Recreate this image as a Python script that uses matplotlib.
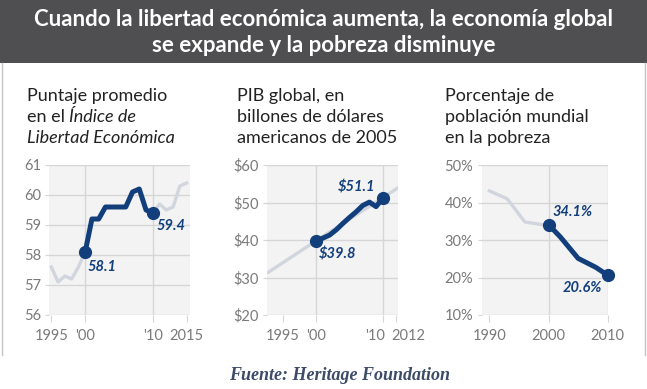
import matplotlib
matplotlib.use("Agg")
import matplotlib.pyplot as plt
import matplotlib.transforms as mtrans
from matplotlib.patches import Rectangle
from matplotlib.lines import Line2D

# ---- data ----
# panel 1: Indice de Libertad Economica (world average)
ief_years = [1995, 1996, 1997, 1998, 1999, 2000, 2001, 2002, 2003, 2004, 2005,
             2006, 2007, 2008, 2009, 2010, 2011, 2012, 2013, 2014, 2015]
ief_vals = [57.6, 57.1, 57.3, 57.2, 57.6, 58.1, 59.2, 59.2, 59.6, 59.6, 59.6,
            59.6, 60.1, 60.2, 59.5, 59.4, 59.7, 59.5, 59.6, 60.3, 60.4]
ief_hi = (2000, 2010)

# panel 2: PIB global (billones USD 2005)
gdp_trend_years = [1992.8, 2000, 2012.2]
gdp_trend_vals = [31.4, 39.8, 53.8]
gdp_years = [2000, 2001, 2002, 2003, 2004, 2005, 2006, 2007, 2008, 2009, 2010]
gdp_vals = [39.8, 40.5, 41.3, 42.7, 44.4, 46.0, 47.5, 49.2, 50.1, 48.9, 51.1]

# panel 3: porcentaje de poblacion mundial en la pobreza
pov_gray_years = [1990, 1993, 1996, 1999, 2000]
pov_gray_vals = [43.1, 41.0, 34.8, 34.1, 34.1]
pov_years = [2000, 2002, 2005, 2008, 2010]
pov_vals = [34.1, 30.8, 25.1, 22.7, 20.6]

W, H = 647, 389
DARK = "#4f4f51"
BLUE = "#123f7c"
GRAYLINE = "#d1d5dd"
TICKC = "#7a7a7a"
GRIDC = "#d6d6d6"
FONT = "Lato"

fig = plt.figure(figsize=(W / 100, H / 100), dpi=100)
fig.patch.set_facecolor("white")

# title bar and frame
fig.add_artist(Rectangle((0, 1 - 63 / H), 1, 63 / H, transform=fig.transFigure,
                         facecolor=DARK, edgecolor="none"))
for xp in (2, 645):
    fig.add_artist(Line2D([xp / W, xp / W], [1 - 63 / H, 1 - 355 / H],
                          transform=fig.transFigure, color="#c4c4c4", lw=1))
fig.text(0.5, 1 - 20 / H, "Cuando la libertad económica aumenta, la economía global",
         ha="center", va="center", color="white", fontsize=16,
         fontweight="bold", family=FONT)
fig.text(0.5, 1 - 46 / H, "se expande y la pobreza disminuye",
         ha="center", va="center", color="white", fontsize=16,
         fontweight="bold", family=FONT)


def box(x0, x1, ytop=165, ybot=315):
    return [x0 / W, (H - ybot) / H, (x1 - x0) / W, (ybot - ytop) / H]


def style(ax, xlim, ylim, xt, xl, yt, yl, vgrid):
    ax.set_facecolor("#f3f3f3")
    ax.set_xlim(*xlim)
    ax.set_ylim(*ylim)
    for s in ax.spines.values():
        s.set_visible(False)
    ax.set_yticks(yt)
    ax.set_yticklabels(yl)
    ax.set_xticks(xt)
    ax.set_xticklabels(xl)
    ax.yaxis.grid(True, color=GRIDC, lw=1)
    for v in vgrid:
        ax.axvline(v, color=GRIDC, lw=1, zorder=0.5)
    ax.set_axisbelow(True)
    ax.tick_params(axis="y", length=3, color=GRIDC, pad=3, labelsize=10.5,
                   labelcolor=TICKC)
    ax.tick_params(axis="x", length=5, color=GRIDC, pad=5, labelsize=10.5,
                   labelcolor=TICKC)
    for lab in ax.get_xticklabels() + ax.get_yticklabels():
        lab.set_family(FONT)


def label(ax, x, y, txt, dx, dy, ha):
    ax.annotate(txt, (x, y), xytext=(dx, dy), textcoords="offset points",
                ha=ha, va="center", color=BLUE, fontsize=10.5,
                fontweight="bold", style="italic", family=FONT)


def highlight(ax, xs, ys, clip=True):
    ax.plot(xs, ys, color=BLUE, lw=3.6, zorder=3, solid_joinstyle="round",
            solid_capstyle="round", clip_on=clip)
    ax.plot([xs[0], xs[-1]], [ys[0], ys[-1]], "o", color=BLUE, ms=8.5,
            zorder=4, clip_on=False)


# ---- panel 1 ----
ax1 = fig.add_axes(box(49.3, 190))
style(ax1, (1994.7, 2015.5), (56, 61), [1995, 2000, 2010, 2015],
      ["1995", "'00", "'10", "2015"], [56, 57, 58, 59, 60, 61],
      ["56", "57", "58", "59", "60", "61"], [2000, 2010])
ax1.plot(ief_years, ief_vals, color=GRAYLINE, lw=2.4, zorder=2)
i0, i1 = ief_years.index(ief_hi[0]), ief_years.index(ief_hi[1])
highlight(ax1, ief_years[i0:i1 + 1], ief_vals[i0:i1 + 1])
label(ax1, ief_years[i0], ief_vals[i0], "58.1", 2, -11, "left")
label(ax1, ief_years[i1], ief_vals[i1], "59.4", 3, -9, "left")

# ---- panel 2 ----
ax2 = fig.add_axes(box(267, 398))
style(ax2, (1992.6, 2012.3), (20, 60), [1995, 2000, 2010, 2012],
      ["1995", "'00", "'10", "2012"], [20, 30, 40, 50, 60],
      ["$20", "$30", "$40", "$50", "$60"], [2000, 2010])
# nudge the two crowded year labels apart, as in the original
for lab, dx in zip(ax2.get_xticklabels()[2:], (-8, 12)):
    lab.set_transform(lab.get_transform() +
                      mtrans.ScaledTranslation(dx / 100, 0, fig.dpi_scale_trans))
ax2.plot(gdp_trend_years, gdp_trend_vals, color=GRAYLINE, lw=2.4, zorder=2)
highlight(ax2, gdp_years, gdp_vals)
label(ax2, gdp_years[0], gdp_vals[0], "$39.8", 2, -10, "left")
label(ax2, gdp_years[-1], gdp_vals[-1], "$51.1", -5, 8, "right")

# ---- panel 3 ----
ax3 = fig.add_axes(box(481.7, 607.7))
style(ax3, (1988.7, 2010.0), (10, 50), [1990, 2000, 2010],
      ["1990", "2000", "2010"], [10, 20, 30, 40, 50],
      ["10%", "20%", "30%", "40%", "50%"], [2000, 2010])
ax3.plot(pov_gray_years, pov_gray_vals, color=GRAYLINE, lw=2.4, zorder=2)
highlight(ax3, pov_years, pov_vals, clip=False)
label(ax3, pov_years[0], pov_vals[0], "34.1%", 3, 9, "left")
label(ax3, pov_years[-1], pov_vals[-1], "20.6%", -4, -9, "right")

# ---- subtitles (roman / italic pieces on one line) ----
sub_x = [27, 237, 445]
sub_lines = [
    [[("Puntaje promedio", "normal")],
     [("en el", "normal"), ("Índice de", "italic")],
     [("Libertad Económica", "italic")]],
    [[("PIB global, en", "normal")],
     [("billones de dólares", "normal")],
     [("americanos de 2005", "normal")]],
    [[("Porcentaje de", "normal")],
     [("población mundial", "normal")],
     [("en la pobreza", "normal")]],
]
pending = []
for x, lines in zip(sub_x, sub_lines):
    y = 101
    for parts in lines:
        first = fig.text(x / W, 1 - y / H, parts[0][0], ha="left",
                         va="baseline", fontsize=13, color="#222222",
                         family=FONT, style=parts[0][1])
        for txt, st in parts[1:]:
            pending.append((first, txt, st))
        y += 21

fig.canvas.draw()
renderer = fig.canvas.get_renderer()
for first, txt, st in pending:
    bb = first.get_window_extent(renderer)
    _, by = first.get_transform().transform(first.get_position())
    fig.text(bb.x1 + 4, by, txt, transform=mtrans.IdentityTransform(),
             ha="left", va="baseline", fontsize=13, color="#222222",
             family=FONT, style=st)

fig.text(340 / W, 1 - 376 / H, "Fuente: Heritage Foundation", ha="center",
         va="center", fontsize=13, fontweight="bold", style="italic",
         family="Liberation Serif", color="#3d4b66")

fig.savefig("out.png", dpi=100)
